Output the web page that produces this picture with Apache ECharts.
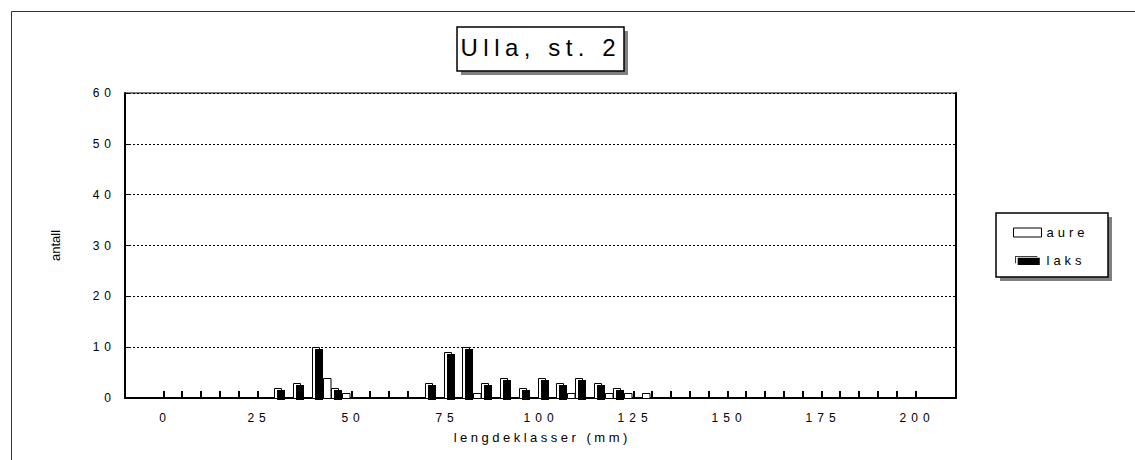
<!DOCTYPE html>
<html>
<head>
<meta charset="utf-8">
<title>Ulla, st. 2</title>
<script src="https://cdn.jsdelivr.net/npm/echarts@6.0.0/dist/echarts.min.js"></script>
<style>
  html, body { margin: 0; padding: 0; background: #fff; }
  #chart { width: 1135px; height: 460px; }
</style>
</head>
<body>
<div id="chart"></div>
<script>
// Length classes (mm), 5 mm steps
const lengthClasses = [0, 5, 10, 15, 20, 25, 30, 35, 40, 45, 50, 55, 60, 65, 70, 75, 80, 85, 90, 95,
  100, 105, 110, 115, 120, 125, 130, 135, 140, 145, 150, 155, 160, 165, 170, 175, 180, 185, 190, 195, 200];
// Catch per length class
const aure = [0, 0, 0, 0, 0, 0, 0, 0, 0, 4, 1, 0, 0, 0, 0, 0, 0, 1, 0, 0,
  0, 0, 1, 0, 1, 1, 1, 0, 0, 0, 0, 0, 0, 0, 0, 0, 0, 0, 0, 0, 0];
const laks = [0, 0, 0, 0, 0, 0, 2, 3, 10, 2, 0, 0, 0, 0, 3, 9, 10, 3, 4, 2,
  4, 3, 4, 3, 2, 0, 0, 0, 0, 0, 0, 0, 0, 0, 0, 0, 0, 0, 0, 0, 0];
// Labelled x positions
const xTickLabels = [0, 25, 50, 75, 100, 125, 150, 175, 200];

const titleText = 'Ulla, st. 2';
const xName = 'lengdeklasser (mm)';
const yName = 'antall';
const FONT = '"Liberation Sans", Arial, sans-serif';

const aureData = lengthClasses.map((x, i) => [x, aure[i]]);
const laksData = lengthClasses.map((x, i) => [x, laks[i]]);
const classData = lengthClasses.map(x => [x, 0]);

// Short inward tick at every length class
function renderClassTick(params, api) {
  const p = api.coord([api.value(0), 0]);
  const x = Math.round(p[0]) + 1;
  const y = Math.round(p[1]);
  return {
    type: 'rect',
    shape: { x: x - 1, y: y - 7, width: 2, height: 7 },
    style: { fill: '#000' }
  };
}

// Hollow white bar left of the class position
function renderAure(params, api) {
  const v = api.value(1);
  if (!v) return null;
  const top = api.coord([api.value(0), v]);
  const base = api.coord([api.value(0), 0]);
  const cx = Math.round(top[0]);
  return {
    type: 'rect',
    shape: { x: cx - 8.5, y: Math.round(top[1]) + 0.5, width: 7.5, height: Math.round(base[1]) - Math.round(top[1]) },
    style: { fill: '#fff', stroke: '#000', lineWidth: 1 }
  };
}

// Outlined bar with a solid black offset block right of the class position
function renderLaks(params, api) {
  const v = api.value(1);
  if (!v) return null;
  const top = api.coord([api.value(0), v]);
  const base = api.coord([api.value(0), 0]);
  const cx = Math.round(top[0]);
  const ty = Math.round(top[1]);
  const h = Math.round(base[1]) - ty;
  return {
    type: 'group',
    children: [
      { type: 'rect', shape: { x: cx - 0.5, y: ty + 0.5, width: 7, height: h },
        style: { fill: '#fff', stroke: '#000', lineWidth: 1 } },
      { type: 'rect', shape: { x: cx + 2, y: ty + 2, width: 8, height: h },
        style: { fill: '#000' } }
    ]
  };
}

const chart = echarts.init(document.getElementById('chart'), null, { renderer: 'svg' });

const option = {
  animation: false,
  backgroundColor: '#fff',
  textStyle: { fontFamily: FONT, color: '#000' },
  grid: {
    left: 125, right: 179, top: 93, bottom: 62,
    show: true, borderColor: '#000', borderWidth: 1, backgroundColor: 'transparent'
  },
  legend: {
    orient: 'vertical',
    left: 1013, top: 226,
    padding: 0,
    itemWidth: 28, itemHeight: 9, itemGap: 15,
    selectedMode: false,
    textStyle: { fontFamily: FONT, fontSize: 13, color: '#000' },
    data: [
      { name: 'aure', icon: 'rect', itemStyle: { color: '#fff', borderColor: '#000', borderWidth: 1 } },
      { name: 'laks', icon: 'path://M0,0H27V1H0Z M0,0H1V9H0Z M3,2H30V11H3Z', itemStyle: { color: '#000' } }
    ]
  },
  xAxis: {
    type: 'value',
    min: -10, max: 211,
    name: xName,
    nameLocation: 'middle',
    nameGap: 33,
    nameTextStyle: { fontFamily: FONT, fontSize: 13, color: '#000' },
    axisLine: { show: true, onZero: false, lineStyle: { color: '#000', width: 2 } },
    axisTick: { show: false },
    axisLabel: { customValues: xTickLabels, margin: 14, fontFamily: FONT, fontSize: 12, color: '#000' },
    splitLine: { show: false }
  },
  yAxis: [{
    type: 'value',
    min: 0, max: 60, interval: 10,
    name: yName,
    nameLocation: 'middle',
    nameGap: 63,
    nameTextStyle: { fontFamily: FONT, fontSize: 13, color: '#000' },
    axisLine: { show: true, onZero: false, lineStyle: { color: '#000', width: 2 } },
    axisTick: { show: true, inside: true, length: 5, lineStyle: { color: '#000', width: 1 } },
    axisLabel: { margin: 14, fontFamily: FONT, fontSize: 12, color: '#000' },
    splitLine: { show: true, lineStyle: { color: '#000', type: [2, 2], width: 1 } }
  }, {
    type: 'value',
    position: 'right',
    min: 0, max: 60, interval: 10,
    axisLine: { show: true, onZero: false, lineStyle: { color: '#000', width: 2 } },
    axisTick: { show: false },
    axisLabel: { show: false },
    splitLine: { show: false }
  }],
  graphic: [
    // outer chart frame
    { type: 'rect', z: 0, silent: true, shape: { x: 11.5, y: 11.5, width: 1300, height: 600 },
      style: { fill: 'none', stroke: '#333', lineWidth: 1 } },
    // title box with shadow
    { type: 'rect', z: 0, silent: true, shape: { x: 461, y: 31, width: 167, height: 44 }, style: { fill: '#808080' } },
    { type: 'rect', z: 1, silent: true, shape: { x: 457, y: 27, width: 167, height: 44 },
      style: { fill: '#fff', stroke: '#000', lineWidth: 1.5 } },
    { type: 'text', z: 2, silent: true, style: { text: titleText, x: 538, y: 47, textAlign: 'center', textVerticalAlign: 'middle',
      font: '24px ' + FONT, fill: '#000' } },
    // legend box with shadow
    { type: 'rect', z: 0, silent: true, shape: { x: 1000, y: 217, width: 112, height: 64 }, style: { fill: '#808080' } },
    { type: 'rect', z: 1, silent: true, shape: { x: 996, y: 213, width: 112, height: 64 },
      style: { fill: '#fff', stroke: '#000', lineWidth: 1.5 } }
  ],
  series: [
    { name: 'klasser', type: 'custom', renderItem: renderClassTick, data: classData, silent: true, z: 2 },
    { name: 'aure', type: 'custom', renderItem: renderAure, data: aureData, itemStyle: { color: '#fff' }, z: 3 },
    { name: 'laks', type: 'custom', renderItem: renderLaks, data: laksData, itemStyle: { color: '#000' }, z: 3 }
  ]
};

chart.setOption(option);

// Wide character spacing of the printed labels
function spacingFor(txt) {
  if (txt === titleText) return 5.5;
  if (/^\d+$/.test(txt)) return 5;
  if (txt === 'aure' || txt === 'laks') return 4;
  if (txt === xName) return 3.5;
  return 0;
}
function applySpacing() {
  document.querySelectorAll('#chart svg text').forEach(t => {
    if (t.getAttribute('data-sp')) return;
    const s = spacingFor(t.textContent.trim());
    if (!s) return;
    t.setAttribute('data-sp', '1');
    t.style.letterSpacing = s + 'px';
    const anchor = t.getAttribute('text-anchor') || getComputedStyle(t).textAnchor;
    const shift = anchor === 'middle' ? s / 2 : anchor === 'end' ? s : 0;
    if (shift) {
      const x = parseFloat(t.getAttribute('x') || '0');
      t.setAttribute('x', x + shift);
    }
  });
}
chart.on('finished', applySpacing);
applySpacing();
setTimeout(applySpacing, 50);
</script>
</body>
</html>
